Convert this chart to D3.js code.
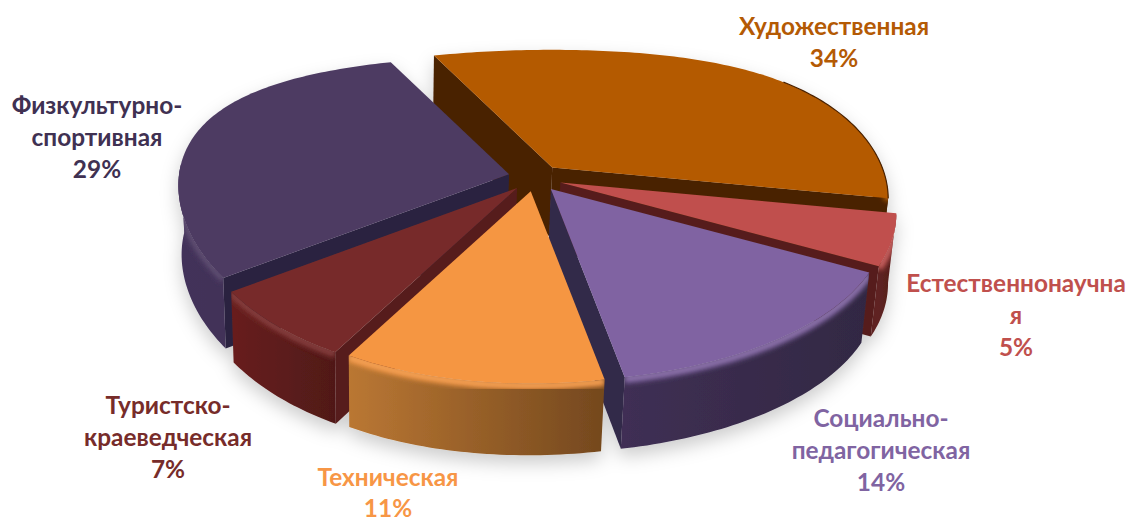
<!DOCTYPE html>
<html><head><meta charset="utf-8">
<script src="https://cdn.jsdelivr.net/npm/d3@7/dist/d3.min.js"></script>
<style>html,body{margin:0;background:#fff}svg{display:block}text{font-family:Lato,"Open Sans",sans-serif;font-weight:700;font-size:24.4px;text-anchor:middle}</style>
</head><body><svg id="c" width="1127" height="521"></svg>
<script>
const categories=["Художественная","Естественнонаучная","Социально-педагогическая","Техническая","Туристско-краеведческая","Физкультурно-спортивная"];
const values=[34,5,14,11,7,29];
const labelLines=[["Художественная","34%"],["Естественнонаучна","я","5%"],["Социально-","педагогическая","14%"],["Техническая","11%"],["Туристско-","краеведческая","7%"],["Физкультурно-","спортивная","29%"]];
const topColors=["#B45A04","#C0504D","#8064A2","#F59643","#772C2A","#4D3B62"];
const cutColors=["#4A2200","#561F1D","#32294A","#8A5424","#561C1B","#2A2340"];
const wallLeft=["#4A2200","#5E2321","#3F2F54","#BA7733","#681F1E","#43335A"];
const wallRight=["#4A2200","#521C1B","#322843","#74481E","#501918","#3E2F53"];
const textColors=["#B45A04","#C0504D","#8064A2","#F79646","#772C2A","#403152"];
const labelX=[834,1016,881,388,168,97];
const labelY=[26,283,418,477,405,105];
const labelLeading=[32.3,32.3,32.3,31,32.3,32.3];

const cx=535,cy=178,R=330,tilt=155,depth=69,explode=27;
const rad=d=>d*Math.PI/180;
const pie=d3.pie().sort(null).startAngle(rad(-21.5)).endAngle(rad(338.5));
const arcs=pie(values);
function proj(u,v,z,ou,ov){
  const x=u*R*(1+0.12*v+0.08*v*v+0.06*u*v)+ou;
  const y=v*tilt*(1+0.24*v)+ov;
  return [cx+x-z*(0.016*x+2.5), cy+y+depth*z*(1+0.04*v)];
}
const line=d3.line().curve(d3.curveLinear);
const svg=d3.select("#c");
const defs=svg.append("defs");
defs.append("filter").attr("id","blur").attr("x","-10%").attr("y","-10%").attr("width","120%").attr("height","120%")
  .append("feGaussianBlur").attr("stdDeviation",2.8);
const sh=defs.append("filter").attr("id","shadow").attr("x","-10%").attr("y","-10%").attr("width","120%").attr("height","125%");
sh.append("feDropShadow").attr("dx",0).attr("dy",8).attr("stdDeviation",9).attr("flood-color","#000").attr("flood-opacity",0.2);

const slices=arcs.map((a,i)=>{
  const mid=(a.startAngle+a.endAngle)/2;
  const ou=Math.sin(mid)*explode, ov=-Math.cos(mid)*explode*0.5;
  return {i,a,mid,ou,ov};
}).sort((p,q)=>(-Math.cos(p.mid))-(-Math.cos(q.mid)));

const root=svg.append("g").attr("filter","url(#shadow)");
slices.forEach(s=>{
  const {i,a,ou,ov}=s;
  const P=(t,r,z)=>proj(Math.sin(t)*r,-Math.cos(t)*r,z,ou,ov);
  const n=Math.ceil((a.endAngle-a.startAngle)/rad(1));
  const ts=d3.range(n+1).map(k=>a.startAngle+(a.endAngle-a.startAngle)*k/n);
  const apex=z=>proj(0,0,z,ou,ov);
  const topPts=[apex(0),...ts.map(t=>P(t,1,0))];
  const g=root.append("g");
  const cid="clip"+i, gid="wall"+i;
  const xs=ts.map(t=>P(t,1,0)[0]);
  const grad=defs.append("linearGradient").attr("id",gid).attr("gradientUnits","userSpaceOnUse")
    .attr("x1",d3.min(xs)).attr("x2",d3.max(xs)).attr("y1",0).attr("y2",0);
  grad.append("stop").attr("offset",0).attr("stop-color",wallLeft[i]);
  grad.append("stop").attr("offset",1).attr("stop-color",wallRight[i]);
  [[a.startAngle,Math.sin(a.startAngle)<0],[a.endAngle,Math.sin(a.endAngle)>0]].forEach(([t,vis])=>{
    if(!vis) return;
    g.append("path").attr("fill",cutColors[i])
     .attr("d",line([apex(0),P(t,1,0),P(t,1,1),apex(1)])+"Z");
  });
  const front=ts.filter(t=>Math.cos(t)<0.08);
  const wallPath=front.length>1?line([...front.map(t=>P(t,1,0)),...front.slice().reverse().map(t=>P(t,1,1))])+"Z":null;
  const topD=line(topPts)+"Z";
  if(wallPath){
    g.append("path").attr("d",wallPath).attr("fill",`url(#${gid})`);
    g.append("clipPath").attr("id",cid).append("path").attr("d",wallPath);
    const bevel=g.append("g").attr("clip-path",`url(#${cid})`);
    bevel.append("path").attr("d",line(front.map(t=>P(t,1,0.03)))).attr("fill","none")
      .attr("stroke",topColors[i]).attr("stroke-width",8).attr("filter","url(#blur)");
    bevel.append("path").attr("d",line(front.map(t=>P(t,1,0.02)))).attr("fill","none")
      .attr("stroke","#fff").attr("stroke-opacity",0.18).attr("stroke-width",3).attr("filter","url(#blur)");
  }
  g.append("path").attr("d",topD).attr("fill",topColors[i]);
  if(i===0) g.append("path").attr("d",line(ts.filter(t=>Math.sin(t)>0.75).map(t=>P(t,1,0))))
     .attr("fill","none").attr("stroke",cutColors[0]).attr("stroke-width",1.2);
});
labelLines.forEach((ls,i)=>{
  const t=svg.append("text").attr("fill",textColors[i]);
  ls.forEach((l,k)=>t.append("tspan").attr("x",labelX[i]).attr("y",labelY[i]+k*labelLeading[i]).attr("dy","0.35em").text(l));
});
</script></body></html>
